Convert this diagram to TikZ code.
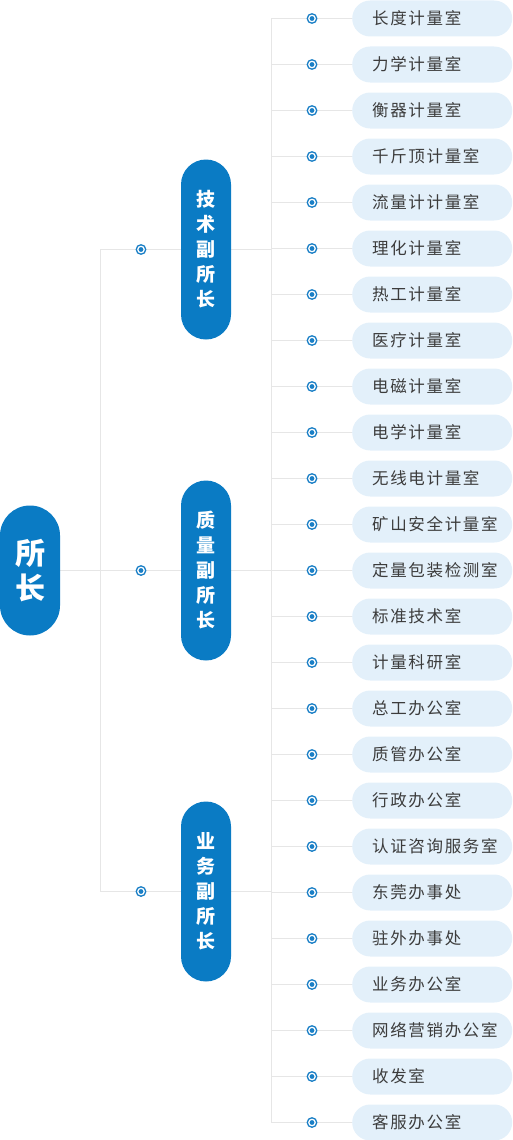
\documentclass[tikz,border=0pt]{standalone}
\usepackage{fontspec}
\newfontfamily\cjk{Noto Sans CJK SC}
\newfontfamily\cjkroom[LetterSpace=10]{Noto Sans CJK SC}
\usetikzlibrary{backgrounds}
\definecolor{mainblue}{HTML}{0A7BC4}
\definecolor{roomblue}{HTML}{E3F0FA}
\definecolor{linegray}{HTML}{E6E6E6}
\definecolor{dotblue}{HTML}{1A7FC6}
\definecolor{roomtext}{HTML}{3C3C3C}
\tikzset{
  boss/.style={fill=mainblue,text=white,rounded corners=30pt,minimum width=60pt,minimum height=130pt,inner sep=0pt,align=center,font=\cjk\bfseries\fontsize{30}{35}\selectfont},
  vice/.style={fill=mainblue,text=white,rounded corners=25pt,minimum width=50pt,minimum height=180pt,inner sep=0pt,align=center,font=\cjk\bfseries\fontsize{19}{25}\selectfont},
  room/.style={fill=roomblue,text=roomtext,rounded corners=18pt,minimum height=36pt,inner xsep=20pt,inner ysep=0pt,text width=120pt,align=left,anchor=west,font=\cjkroom\fontsize{16.5}{20}\selectfont},
  link/.style={draw=linegray,line width=1pt},
  dot/.style={circle,draw=dotblue,fill=white,line width=1.3pt,minimum size=9.5pt,inner sep=0pt,
    path picture={\fill[dotblue] (path picture bounding box.center) circle (2.4pt);}}
}
\begin{document}
\begin{tikzpicture}[x=1pt,y=-1pt]
  \useasboundingbox (0,0) rectangle (512,1140);
  \node[boss] (boss) at (30,570.5) {所\\长};
  \node[vice] (vp1) at (206,249.5) {技\\术\\副\\所\\长};
  \node[vice] (vp2) at (206,570.5) {质\\量\\副\\所\\长};
  \node[vice] (vp3) at (206,891.5) {业\\务\\副\\所\\长};
  \coordinate (trunk) at (100,570);
  \coordinate (spine) at (271.5,570);
  \foreach \name [count=\i from 0] in {长度计量室,力学计量室,衡器计量室,千斤顶计量室,流量计计量室,理化计量室,热工计量室,医疗计量室,电磁计量室,电学计量室,无线电计量室,矿山安全计量室,定量包装检测室,标准技术室,计量科研室,总工办公室,质管办公室,行政办公室,认证咨询服务室,东莞办事处,驻外办事处,业务办公室,网络营销办公室,收发室,客服办公室}{
    \node[room] (r\i) at (352,18.5+46*\i) {\name};
    \node[dot] (d\i) at (312,18.5+46*\i) {};
  }
  \foreach \k in {1,2,3}{\node[dot] (e\k) at (vp\k.west -| 141,0) {};}
  \begin{pgfonlayer}{background}
    \draw[link] (boss.east) -- (boss.east -| trunk);
    \draw[link] (vp1.west -| trunk) -- (vp3.west -| trunk);
    \draw[link] (r0.west -| spine) -- (r24.west -| spine);
    \foreach \k in {1,2,3}{
      \draw[link] (vp\k.west -| trunk) -- (e\k) -- (vp\k.west);
      \draw[link] (vp\k.east) -- (vp\k.east -| spine);
    }
    \foreach \i in {0,...,24}{\draw[link] (r\i.west -| spine) -- (d\i) -- (r\i.west);}
  \end{pgfonlayer}
\end{tikzpicture}
\end{document}
